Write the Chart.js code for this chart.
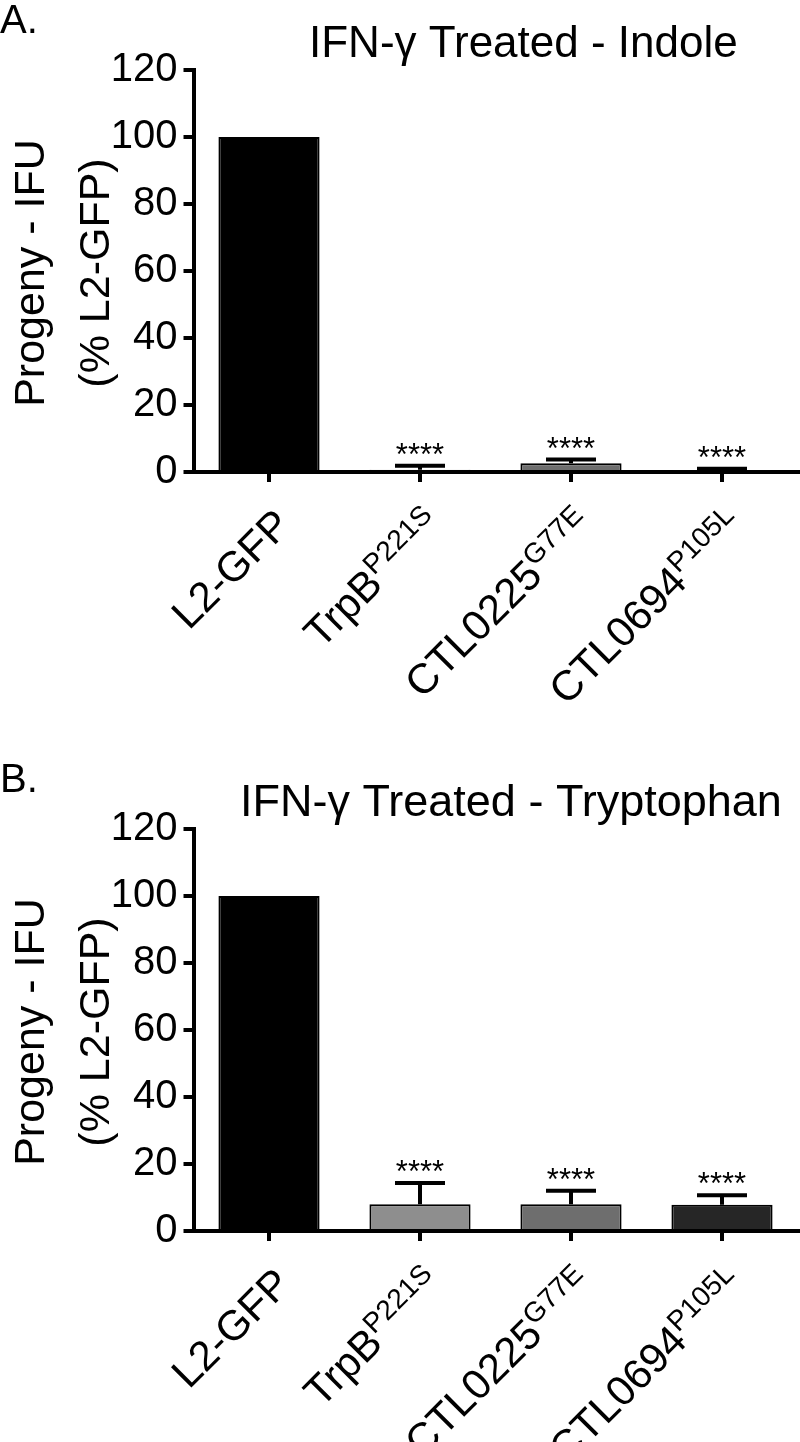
<!DOCTYPE html>
<html>
<head>
<meta charset="utf-8">
<script src="https://cdn.jsdelivr.net/npm/chart.js@4.4.1/dist/chart.umd.min.js"></script>
<style>
  html, body { margin: 0; padding: 0; background: #fff; width: 800px; height: 1442px; overflow: hidden; }
  .panel { position: absolute; left: 0; width: 800px; height: 740px; }
  #panelA { top: 0; }
  #panelB { top: 759px; }
</style>
</head>
<body>
<div class="panel" id="panelA"><canvas id="chartA"></canvas></div>
<div class="panel" id="panelB"><canvas id="chartB"></canvas></div>
<script>
const strains   = ['L2-GFP', 'TrpB', 'CTL0225', 'CTL0694'];
const mutations = ['', 'P221S', 'G77E', 'P105L'];
const barColors = ['#000000', '#8e8e8e', '#6e6e6e', '#262626'];

// A. IFN-gamma treated, indole rescue
const indoleMean = [100, 0.7, 2.6, 0.5];
const indoleErr  = [0, 1.2, 1.1, 0.5];
const indoleSig  = ['', '****', '****', '****'];

// B. IFN-gamma treated, tryptophan rescue
const trpMean = [100, 8.0, 8.0, 7.8];
const trpErr  = [0, 6.3, 4.0, 2.9];
const trpSig  = ['', '****', '****', '****'];

const FONT = "'Liberation Sans', Arial, sans-serif";
const yTitle = ['Progeny - IFU', '(% L2-GFP)'];

const decorPlugin = {
    id: 'decor',
    afterDatasetsDraw(chart, args, opts) {
        const ctx = chart.ctx;
        const y = chart.scales.y;
        const meta = chart.getDatasetMeta(0);
        ctx.save();
        ctx.strokeStyle = '#000';
        ctx.fillStyle = '#000';
        ctx.lineWidth = 4;
        ctx.lineCap = 'butt';
        opts.mean.forEach((m, i) => {
            const cx = meta.data[i].x;
            const yBar = y.getPixelForValue(m);
            const yTop = y.getPixelForValue(m + opts.err[i]);
            if (opts.err[i] > 0) {
                ctx.beginPath();
                ctx.moveTo(cx, yBar);
                ctx.lineTo(cx, yTop);
                ctx.moveTo(cx - 25, yTop);
                ctx.lineTo(cx + 25, yTop);
                ctx.stroke();
            }
            if (opts.sig[i]) {
                ctx.font = '31px ' + FONT;
                ctx.textAlign = 'center';
                ctx.textBaseline = 'alphabetic';
                ctx.fillText(opts.sig[i], cx, yTop - 1);
            }
        });
        ctx.restore();
    },
    afterDraw(chart, args, opts) {
        const ctx = chart.ctx;
        const area = chart.chartArea;
        const x = chart.scales.x;
        ctx.save();
        ctx.fillStyle = '#000';
        // panel letter and title
        ctx.textAlign = 'left';
        ctx.textBaseline = 'alphabetic';
        ctx.font = '40px ' + FONT;
        ctx.fillText(opts.letter, 0, 33);
        ctx.font = opts.titleSize + 'px ' + FONT;
        ctx.fillText(opts.title, opts.titleX, 57);
        // y axis title, two rotated lines
        const midY = (area.top + area.bottom) / 2 + 2;
        ctx.font = '43px ' + FONT;
        ctx.textAlign = 'center';
        [44, 109].forEach((bx, k) => {
            ctx.save();
            ctx.translate(bx, midY);
            ctx.rotate(-Math.PI / 2);
            ctx.fillText(yTitle[k], 0, 0);
            ctx.restore();
        });
        // rotated category labels with superscripts
        strains.forEach((s, i) => {
            const tx = x.getPixelForValue(i) + 24;
            const ty = area.bottom + 55;
            ctx.save();
            ctx.translate(tx, ty);
            ctx.rotate(-Math.PI / 4);
            ctx.font = '28px ' + FONT;
            const supW = mutations[i] ? ctx.measureText(mutations[i]).width : 0;
            ctx.textAlign = 'left';
            if (mutations[i]) ctx.fillText(mutations[i], -supW, -15);
            ctx.font = '42px ' + FONT;
            ctx.textAlign = 'right';
            ctx.fillText(s, -supW, 0);
            ctx.restore();
        });
        ctx.restore();
    }
};

function makeChart(canvasId, mean, err, sig, letter, title, titleX, titleSize) {
    return new Chart(document.getElementById(canvasId), {
        type: 'bar',
        data: {
            labels: strains,
            datasets: [{
                data: mean,
                backgroundColor: barColors,
                borderColor: '#000',
                borderWidth: 2,
                barPercentage: 0.67,
                categoryPercentage: 1.0
            }]
        },
        options: {
            responsive: true,
            maintainAspectRatio: false,
            animation: false,
            layout: { padding: { top: 70, right: 2.5, left: 0, bottom: 0 } },
            plugins: {
                legend: { display: false },
                tooltip: { enabled: false },
                decor: { mean, err, sig, letter, title, titleX, titleSize }
            },
            scales: {
                x: {
                    offset: true,
                    grid: { display: true, offset: false, drawOnChartArea: false, drawTicks: true,
                            tickLength: 10, lineWidth: 4, color: '#000' },
                    border: { display: true, width: 4, color: '#000' },
                    ticks: { display: false },
                    afterFit(scale) { scale.height = 268; }
                },
                y: {
                    min: 0, max: 120,
                    grid: { drawOnChartArea: false, drawTicks: true, tickLength: 10, lineWidth: 4, color: '#000' },
                    border: { display: true, width: 4, color: '#000' },
                    ticks: { stepSize: 20, padding: 6, color: '#000', font: { family: FONT, size: 40 } },
                    afterFit(scale) { scale.width = 193.5; }
                }
            }
        },
        plugins: [decorPlugin]
    });
}

makeChart('chartA', indoleMean, indoleErr, indoleSig, 'A.', 'IFN-\u03b3 Treated - Indole', 309, 44);
makeChart('chartB', trpMean, trpErr, trpSig, 'B.', 'IFN-\u03b3 Treated - Tryptophan', 240, 45);
</script>
</body>
</html>
